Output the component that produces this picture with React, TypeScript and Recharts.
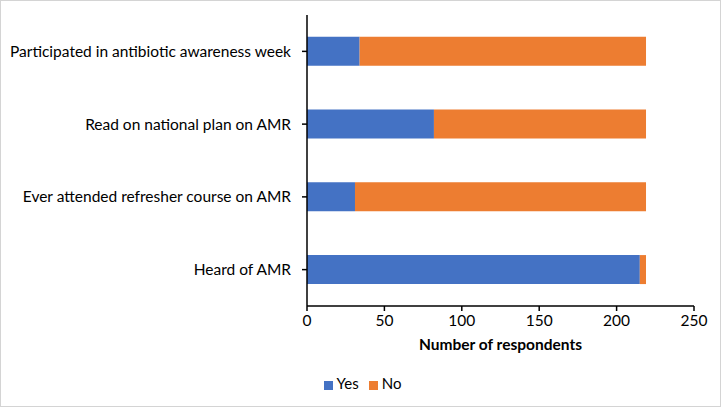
import React from "react";
import { BarChart, Bar, XAxis, YAxis, Legend } from "recharts";

const categories = [
  "Participated in antibiotic awareness week",
  "Read on national plan on AMR",
  "Ever attended refresher course on AMR",
  "Heard of AMR",
];
const yesValues = [34, 82, 31, 215];
const noValues = [185, 137, 188, 4];
const xTicks = [0, 50, 100, 150, 200, 250];
const seriesOrder = ["Yes", "No"];

const data = categories.map((name, i) => ({ name, Yes: yesValues[i], No: noValues[i] }));

const FONT = "Lato, 'Open Sans', sans-serif";

export default function App() {
  return (
    <div
      style={{
        position: "absolute",
        left: 0,
        top: 0,
        width: 721,
        height: 407,
        background: "#fff",
        boxSizing: "border-box",
        border: "1px solid #d4d4d4",
        fontFamily: FONT,
      }}
    >
      <BarChart
        width={719}
        height={405}
        data={data}
        layout="vertical"
        barCategoryGap="30%"
        margin={{ top: 14, right: 26, left: 0, bottom: 14 }}
      >
        <XAxis
          type="number"
          domain={[0, 250]}
          ticks={xTicks}
          interval={0}
          stroke="#000"
          strokeWidth={1.5}
          tickSize={5}
          tickMargin={4}
          height={68}
          tick={{ fill: "#000", fontSize: 15.5, fontFamily: FONT }}
          label={{
            value: "Number of respondents",
            position: "insideTop",
            offset: 33,
            fill: "#000",
            fontSize: 15.5,
            fontWeight: 700,
            fontFamily: FONT,
          }}
        />
        <YAxis
          type="category"
          dataKey="name"
          width={306}
          stroke="#000"
          strokeWidth={1.5}
          tickSize={5}
          tickMargin={11}
          interval={0}
          tick={{ fill: "#000", fontSize: 15.5, fontFamily: FONT }}
        />
        <Legend
          verticalAlign="bottom"
          align="center"
          iconType="square"
          iconSize={9}
          itemSorter={(item: any) => seriesOrder.indexOf(item.value)}
          wrapperStyle={{ fontSize: 15, fontFamily: FONT, color: "#000", paddingLeft: 20 }}
          formatter={(v) => <span style={{ color: "#000" }}>{v}</span>}
        />
        <Bar dataKey="Yes" stackId="a" fill="#4472C4" isAnimationActive={false} />
        <Bar dataKey="No" stackId="a" fill="#ED7D31" isAnimationActive={false} />
      </BarChart>
    </div>
  );
}
